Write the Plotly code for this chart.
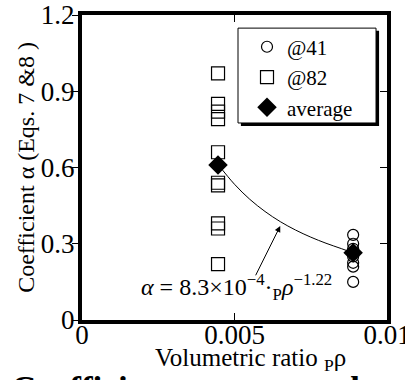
import plotly.graph_objects as go

# ---- data ----
x_82 = [0.00446] * 10
y_82 = [0.97, 0.85, 0.82, 0.79, 0.66, 0.54, 0.53, 0.38, 0.36, 0.22]

x_41 = [0.00889] * 8
y_41 = [0.335, 0.30, 0.28, 0.265, 0.25, 0.225, 0.21, 0.15]

x_avg = [0.00446, 0.00889]
y_avg = [0.61, 0.265]

x_fit = [0.00446, 0.0050, 0.0055, 0.0060, 0.0065, 0.0070, 0.0075, 0.0080, 0.0085, 0.00889]
y_fit = [0.612, 0.534, 0.475, 0.427, 0.387, 0.354, 0.326, 0.302, 0.281, 0.264]

x_ticks = [0, 0.005, 0.01]
x_ticklabels = ["0", "0.005", "0.01"]
y_ticks = [0, 0.3, 0.6, 0.9, 1.2]
y_ticklabels = ["0", "0.3", "0.6", "0.9", "1.2"]

FONT = "Liberation Serif, Times New Roman, serif"

fig = go.Figure()

fig.add_trace(go.Scatter(x=x_fit, y=y_fit, mode="lines", line=dict(color="black", width=1, shape="spline"),
                         showlegend=False, hoverinfo="skip"))
fig.add_trace(go.Scatter(x=x_41, y=y_41, mode="markers", name="@41",
                         marker=dict(symbol="circle-open", size=11, color="black", line=dict(width=1.2))))
fig.add_trace(go.Scatter(x=x_82, y=y_82, mode="markers", name="@82",
                         marker=dict(symbol="square-open", size=13, color="black", line=dict(width=1.2))))
fig.add_trace(go.Scatter(x=x_avg, y=y_avg, mode="markers", name="average",
                         marker=dict(symbol="diamond", size=15, color="black")))
fig.add_trace(go.Scatter(x=[None], y=[None], yaxis="y2", showlegend=False, hoverinfo="skip"))

fig.add_annotation(x=0.0065, y=0.37, ax=0.00567, ay=0.17, xref="x", yref="y", axref="x", ayref="y",
                   text="", showarrow=True, arrowhead=2, arrowsize=1.2, arrowwidth=1, arrowcolor="black")
fig.add_annotation(x=0.00506, y=0.13, xref="x", yref="y", showarrow=False,
                   text="<i>α</i> = 8.3×10<sup>−4</sup>·<sub>P</sub><i>ρ</i><sup>−1.22</sup>",
                   font=dict(family=FONT, size=24, color="black"))
# x-axis title
fig.add_annotation(x=0.551, y=-0.131, xref="paper", yref="paper", xanchor="center", yanchor="middle",
                   showarrow=False, text="Volumetric ratio <sub>P</sub>ρ",
                   font=dict(family=FONT, size=25, color="black"))
# caption (cut off at the bottom edge, as in the reference)
fig.add_annotation(x=-0.24, y=-0.156, xref="paper", yref="paper", xanchor="left", yanchor="top",
                   showarrow=False, text="<b>Coefficient α versus volumetric ratio</b>",
                   font=dict(family=FONT, size=35, color="black"))

# legend box with shadow
fig.add_shape(type="rect", xref="paper", yref="paper", x0=0.521, x1=0.974, y0=0.636, y1=0.948,
              fillcolor="black", line=dict(width=0), layer="above")
fig.add_shape(type="rect", xref="paper", yref="paper", x0=0.5115, x1=0.964, y0=0.646, y1=0.957,
              fillcolor="white", line=dict(width=1, color="black"), layer="above")

fig.update_layout(
    width=405, height=380,
    margin=dict(l=82, r=18, t=15, b=60),
    paper_bgcolor="white", plot_bgcolor="white",
    font=dict(family=FONT, size=27, color="black"),
    showlegend=True,
    legend=dict(x=0.541, y=0.962, xanchor="left", yanchor="top", bgcolor="rgba(0,0,0,0)",
                borderwidth=0, font=dict(family=FONT, size=21),
                itemwidth=30, tracegroupgap=0),
    xaxis=dict(range=[0, 0.01], tickvals=x_ticks, ticktext=x_ticklabels, showgrid=False, zeroline=False,
               showline=True, linewidth=4, linecolor="black", mirror="ticks", ticks="inside",
               ticklen=7, tickwidth=1, tickcolor="black", automargin=False, ticklabeloverflow="allow",
               ticklabelstandoff=-12),
    yaxis=dict(range=[0, 1.2], tickvals=y_ticks, ticktext=y_ticklabels, showgrid=False, zeroline=False,
               showline=True, linewidth=4, linecolor="black", mirror=True, ticks="outside",
               ticklen=6, tickwidth=1, tickcolor="black", automargin=False, ticklabeloverflow="allow",
               ticklabelstandoff=-8,
               title=dict(text="Coefficient α (Eqs. 7 &8 )", standoff=0, font=dict(size=24))),
    yaxis2=dict(range=[0, 1.2], tickvals=y_ticks, overlaying="y", side="right", showticklabels=False,
                ticks="inside", ticklen=7, tickwidth=1, tickcolor="black", showgrid=False, zeroline=False,
                showline=False, automargin=False),
)

fig.write_html("out.html", config={"displayModeBar": False},
               post_script="document.body.style.margin='0';document.body.style.overflow='hidden';")
